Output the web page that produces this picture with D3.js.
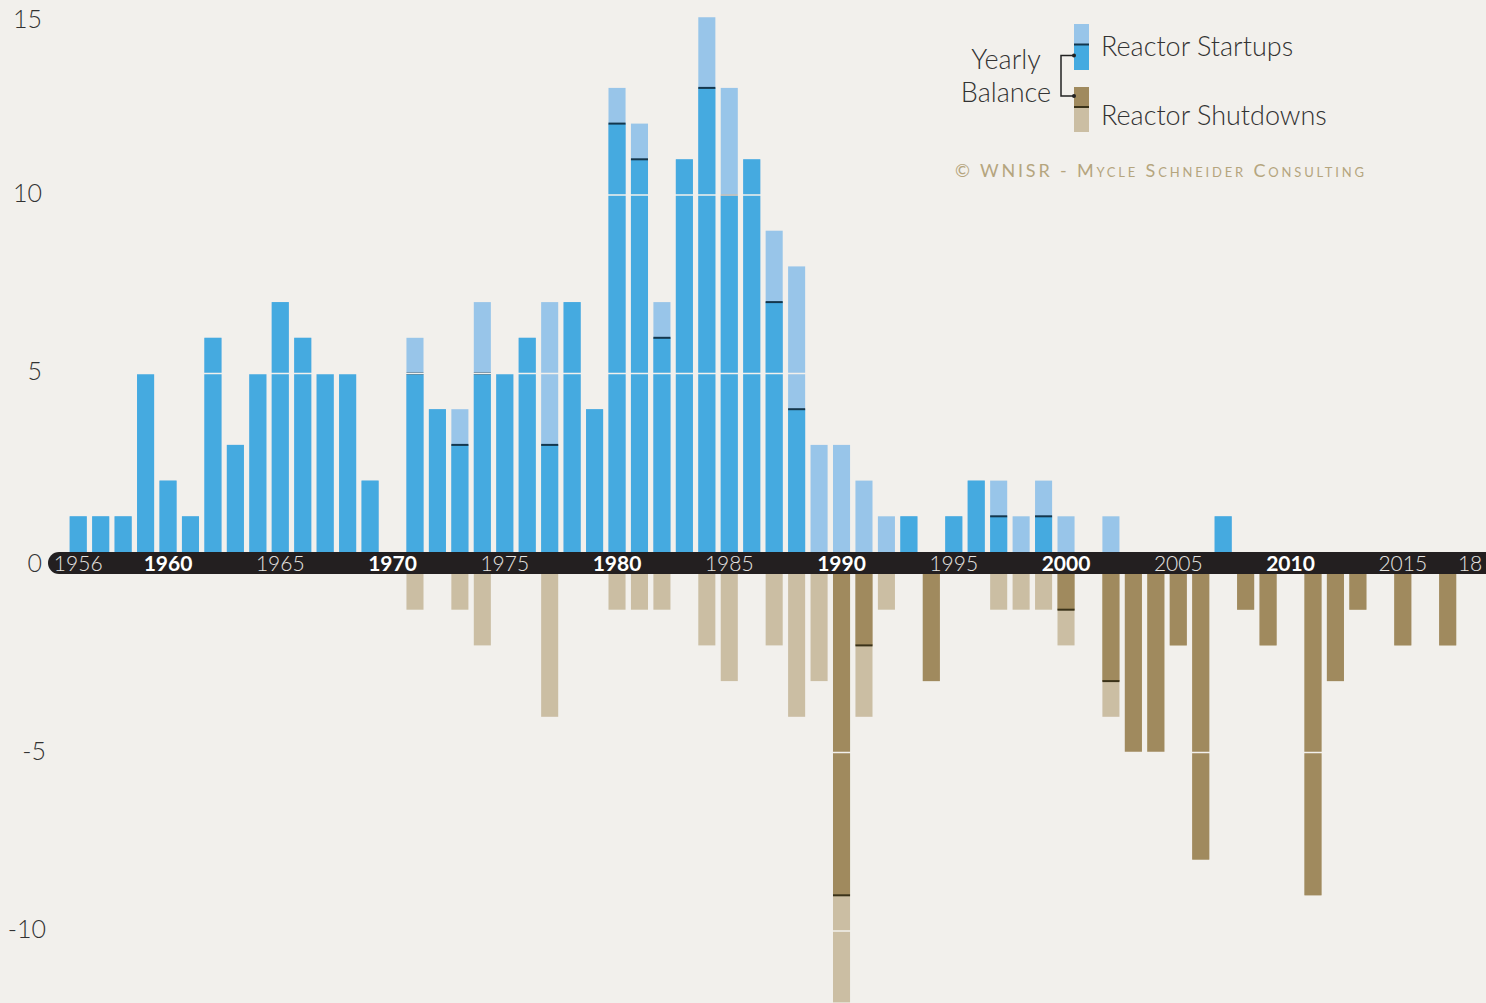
<!DOCTYPE html>
<html>
<head>
<meta charset="utf-8">
<script src="https://cdn.jsdelivr.net/npm/d3@7"></script>
<style>
  body { margin: 0; background: #f2f0ec; }
  svg { display: block; font-family: Lato, "Open Sans", sans-serif; }
</style>
</head>
<body>
<svg id="chart" width="1486" height="1003"></svg>
<script>
var width = 1486;
var height = 1003;

// years 1956..2018
var years = d3.range(1956, 2019);

// startups per year (same order as years)
var startups = [1, 1, 1, 5, 2, 1, 6, 3, 5, 7, 6, 5, 5, 2,   // 1956-1969
  0, 6, 4, 4, 7, 5, 6, 7, 7, 4,                              // 1970-1979
  13, 12, 7, 11, 15, 13, 11, 9, 8, 3,                        // 1980-1989
  3, 2, 1, 1, 0, 1, 2, 2, 1, 2,                              // 1990-1999
  1, 0, 1, 0, 0, 0, 0, 1, 0, 0,                              // 2000-2009
  0, 0, 0, 0, 0, 0, 0, 0, 0];                                // 2010-2018

// shutdowns per year
var shutdowns = [0, 0, 0, 0, 0, 0, 0, 0, 0, 0, 0, 0, 0, 0,  // 1956-1969
  0, 1, 0, 1, 2, 0, 0, 4, 0, 0,                              // 1970-1979
  1, 1, 1, 0, 2, 3, 0, 2, 4, 3,                              // 1980-1989
  12, 4, 1, 0, 3, 0, 0, 1, 1, 1,                             // 1990-1999
  2, 0, 4, 5, 5, 2, 8, 0, 1, 2,                              // 2000-2009
  0, 9, 3, 1, 0, 2, 0, 2, 0];                                // 2010-2018

var yTicksUp = [5, 10, 15];
var yTicksDown = [-5, -10];
var boldYears = [1960, 1970, 1980, 1990, 2000, 2010];
var labelYears = [1956, 1960, 1965, 1970, 1975, 1980, 1985, 1990, 1995, 2000, 2005, 2010, 2015, 2018];

var colors = {
  bg: "#f2f0ec",
  blue: "#45aae0",
  lightBlue: "#98c5e9",
  brown: "#a08a5e",
  tan: "#cbbea3",
  band: "#231f20"
};

var svg = d3.select("#chart");

svg.append("rect")
  .attr("width", width)
  .attr("height", height)
  .attr("fill", colors.bg);

var data = years.map(function(y, i) {
  return { year: y, s: startups[i], d: shutdowns[i], bal: startups[i] - shutdowns[i] };
});

var x = d3.scaleBand()
  .domain(years)
  .range([67, 67 + 22.45 * years.length])
  .paddingInner(0.24)
  .paddingOuter(0.12);

var bandTop = 552;
var bandBottom = 574;
var unit = 35.7;

var yUp = d3.scaleLinear().domain([0, 15]).range([bandTop, bandTop - 15 * unit]);
var yDown = d3.scaleLinear().domain([0, -12]).range([bandBottom, bandBottom + 12 * unit]);

var bars = svg.append("g");

// startups: light full bar, dark part for positive balance
bars.selectAll(".s-light")
  .data(data.filter(function(d) { return d.s > 0; }))
  .enter().append("rect")
  .attr("x", function(d) { return x(d.year); })
  .attr("width", x.bandwidth())
  .attr("y", function(d) { return yUp(d.s); })
  .attr("height", function(d) { return yUp(0) - yUp(d.s); })
  .attr("fill", colors.lightBlue);

bars.selectAll(".s-dark")
  .data(data.filter(function(d) { return d.bal > 0; }))
  .enter().append("rect")
  .attr("x", function(d) { return x(d.year); })
  .attr("width", x.bandwidth())
  .attr("y", function(d) { return yUp(d.bal); })
  .attr("height", function(d) { return yUp(0) - yUp(d.bal); })
  .attr("fill", colors.blue);

// shutdowns
bars.selectAll(".d-light")
  .data(data.filter(function(d) { return d.d > 0; }))
  .enter().append("rect")
  .attr("x", function(d) { return x(d.year); })
  .attr("width", x.bandwidth())
  .attr("y", yDown(0))
  .attr("height", function(d) { return yDown(-d.d) - yDown(0); })
  .attr("fill", colors.tan);

bars.selectAll(".d-dark")
  .data(data.filter(function(d) { return d.bal < 0; }))
  .enter().append("rect")
  .attr("x", function(d) { return x(d.year); })
  .attr("width", x.bandwidth())
  .attr("y", yDown(0))
  .attr("height", function(d) { return yDown(d.bal) - yDown(0); })
  .attr("fill", colors.brown);

// gridlines in background colour over the bars
svg.append("g").selectAll("line")
  .data(yTicksUp)
  .enter().append("line")
  .attr("x1", 60).attr("x2", width)
  .attr("y1", function(d) { return yUp(d); })
  .attr("y2", function(d) { return yUp(d); })
  .attr("stroke", colors.bg)
  .attr("stroke-width", 1.5);

svg.append("g").selectAll("line")
  .data(yTicksDown)
  .enter().append("line")
  .attr("x1", 60).attr("x2", width)
  .attr("y1", function(d) { return yDown(d); })
  .attr("y2", function(d) { return yDown(d); })
  .attr("stroke", colors.bg)
  .attr("stroke-width", 1.5);

// balance marker lines
bars.selectAll(".bal-up")
  .data(data.filter(function(d) { return d.bal > 0 && d.d > 0; }))
  .enter().append("rect")
  .attr("x", function(d) { return x(d.year); })
  .attr("width", x.bandwidth())
  .attr("y", function(d) { return yUp(d.bal) - 1; })
  .attr("height", 2)
  .attr("fill", "#14374d");

bars.selectAll(".bal-down")
  .data(data.filter(function(d) { return d.bal < 0 && d.s > 0; }))
  .enter().append("rect")
  .attr("x", function(d) { return x(d.year); })
  .attr("width", x.bandwidth())
  .attr("y", function(d) { return yDown(d.bal) - 1; })
  .attr("height", 2)
  .attr("fill", "#3a3219");

// axis band
svg.append("rect")
  .attr("x", 48)
  .attr("y", bandTop)
  .attr("width", width)
  .attr("height", bandBottom - bandTop)
  .attr("rx", 11)
  .attr("fill", colors.band);

svg.append("g").selectAll("text")
  .data(labelYears)
  .enter().append("text")
  .attr("x", function(d) { return x(d) + x.bandwidth() / 2; })
  .attr("y", (bandTop + bandBottom) / 2)
  .attr("dy", "0.36em")
  .attr("text-anchor", "middle")
  .attr("font-size", 21)
  .attr("font-weight", function(d) { return boldYears.indexOf(d) >= 0 ? 700 : 300; })
  .attr("fill", function(d) { return boldYears.indexOf(d) >= 0 ? "#ffffff" : "#e6e4e0"; })
  .text(function(d) { return d === 2018 ? "18" : d; });

// y labels
var yLab = svg.append("g")
  .attr("font-size", 25)
  .attr("font-weight", 300)
  .attr("fill", "#333")
  .attr("text-anchor", "end");

yLab.selectAll(".up")
  .data(yTicksUp)
  .enter().append("text")
  .attr("x", 42)
  .attr("y", function(d) { return Math.max(yUp(d) - 2.5, 19); })
  .attr("dy", "0.36em")
  .text(function(d) { return d; });

yLab.append("text")
  .attr("x", 42)
  .attr("y", (bandTop + bandBottom) / 2)
  .attr("dy", "0.36em")
  .text("0");

yLab.selectAll(".down")
  .data(yTicksDown)
  .enter().append("text")
  .attr("x", 46)
  .attr("y", function(d) { return yDown(d) - 2; })
  .attr("dy", "0.36em")
  .text(function(d) { return d; });

// legend
var lg = svg.append("g");

lg.append("rect").attr("x", 1074).attr("y", 24).attr("width", 15).attr("height", 20).attr("fill", colors.lightBlue);
lg.append("rect").attr("x", 1074).attr("y", 44).attr("width", 15).attr("height", 26).attr("fill", colors.blue);
lg.append("rect").attr("x", 1074).attr("y", 43.5).attr("width", 15).attr("height", 2).attr("fill", "#14374d");

lg.append("rect").attr("x", 1074).attr("y", 87).attr("width", 15).attr("height", 20).attr("fill", colors.brown);
lg.append("rect").attr("x", 1074).attr("y", 107).attr("width", 15).attr("height", 25).attr("fill", colors.tan);
lg.append("rect").attr("x", 1074).attr("y", 106).attr("width", 15).attr("height", 2).attr("fill", "#3a3219");

lg.append("path")
  .attr("d", "M1074,55.5 H1061 V96 H1074")
  .attr("fill", "none")
  .attr("stroke", "#222")
  .attr("stroke-width", 1.5);
lg.append("circle").attr("cx", 1074).attr("cy", 55.5).attr("r", 2).attr("fill", "#222");
lg.append("circle").attr("cx", 1074).attr("cy", 96).attr("r", 2).attr("fill", "#222");

lg.append("text").attr("x", 1006).attr("y", 69).attr("text-anchor", "middle")
  .attr("font-size", 27).attr("font-weight", 300).attr("fill", "#333").text("Yearly");
lg.append("text").attr("x", 1006).attr("y", 102).attr("text-anchor", "middle")
  .attr("font-size", 27).attr("font-weight", 300).attr("fill", "#333").text("Balance");

lg.append("text").attr("x", 1101).attr("y", 56)
  .attr("font-size", 27).attr("font-weight", 300).attr("fill", "#333").text("Reactor Startups");
lg.append("text").attr("x", 1101).attr("y", 125)
  .attr("font-size", 27).attr("font-weight", 300).attr("fill", "#333").text("Reactor Shutdowns");

lg.append("text").attr("x", 955).attr("y", 177)
  .attr("font-size", 18)
  .attr("font-variant", "small-caps")
  .attr("letter-spacing", 3)
  .attr("fill", "#b5a57e")
  .attr("textLength", 412)
  .attr("lengthAdjust", "spacing")
  .text("© WNISR - Mycle Schneider Consulting");
</script>
</body>
</html>
